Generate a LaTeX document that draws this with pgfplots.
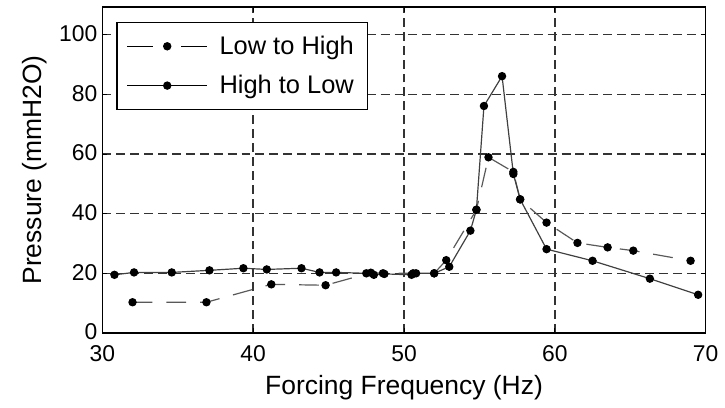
\documentclass[border=0pt]{standalone}
\usepackage{fontspec}
\setmainfont{Liberation Sans}
\usepackage{pgfplots}
\pgfplotsset{compat=1.18}

\begin{document}
\begin{tikzpicture}
\begin{axis}[
  name=ax,
  scale only axis,
  width=303.5pt, height=164pt,
  xmin=30, xmax=70, ymin=0, ymax=109.3,
  xtick={30,40,...,70}, ytick={0,20,...,100},
  tick align=inside, major tick length=2.5pt,
  tick style={black, line width=0.5pt},
  axis line style={black, line width=0.8pt},
  /pgf/number format/assume math mode=true,
  ticklabel style={font=\fontsize{11.5}{13}\selectfont},
  xticklabel style={yshift=-3pt},
  yticklabel style={xshift=1pt, yshift=0.5pt},
  label style={font=\fontsize{13.3}{15}\selectfont},
  xlabel={Forcing Frequency (Hz)},
  ylabel={Pressure (mmH2O)},
  xlabel style={yshift=0pt},
  ylabel style={yshift=-0.5pt},
  grid=major,
  major grid style={black!80, line width=0.75pt, dash pattern=on 4.5pt off 2.5pt},
  legend style={at={(0.023,0.954)}, anchor=north west, draw=black, line width=0.7pt,
    font=\fontsize{12.8}{14}\selectfont, inner xsep=5pt, inner ysep=4.5pt,
    row sep=5pt, column sep=4pt, cells={anchor=west}},
  legend image code/.code={%
    \draw[mark repeat=2, mark phase=2, #1]
      plot coordinates {(0pt,0pt) (20pt,0pt) (40pt,0pt)};},
]
% Low to High sweep
\addplot[black!65, line width=0.6pt, dash pattern=on 10pt off 7pt,
  mark=*, mark size=1.8pt, mark options={solid, fill=black, draw=black},
  legend image post style={black, dash pattern=on 13pt off 14pt}]
  coordinates {
  (32.0,10.3) (36.9,10.3) (41.2,16.3) (44.8,16.0) (47.8,20.2) (48.6,20.0)
  (50.6,20.0) (52.0,20.0) (52.8,24.4) (54.8,41.3) (55.6,58.9) (57.25,54.0)
  (57.7,44.8) (59.45,37.0) (61.5,30.2) (63.5,28.7) (65.2,27.6) (69.0,24.2)
  };
\addlegendentry{Low to High}
% High to Low sweep
\addplot[black!75, line width=0.6pt, solid,
  mark=*, mark size=1.8pt, mark options={fill=black, draw=black},
  legend image post style={black}]
  coordinates {
  (30.8,19.5) (32.1,20.3) (34.6,20.3) (37.1,21.0) (39.35,21.7) (40.9,21.3)
  (43.2,21.7) (44.4,20.3) (45.5,20.3) (47.5,20.0) (48.0,19.5) (48.7,19.8)
  (50.5,19.5) (50.8,20.0) (52.0,20.0) (53.0,22.2) (54.4,34.3) (54.8,41.3)
  (55.3,76.1) (56.5,86.1) (57.25,53.3) (57.7,44.8) (59.45,28.1) (62.5,24.2)
  (66.3,18.2) (69.5,12.8)
  };
\addlegendentry{High to Low}
\end{axis}
% page frame around the axis and its labels
\path[use as bounding box] (ax.south west) ++(-51.5pt,-35.5pt) rectangle ++(362.5pt,203pt);
\end{tikzpicture}
\end{document}
